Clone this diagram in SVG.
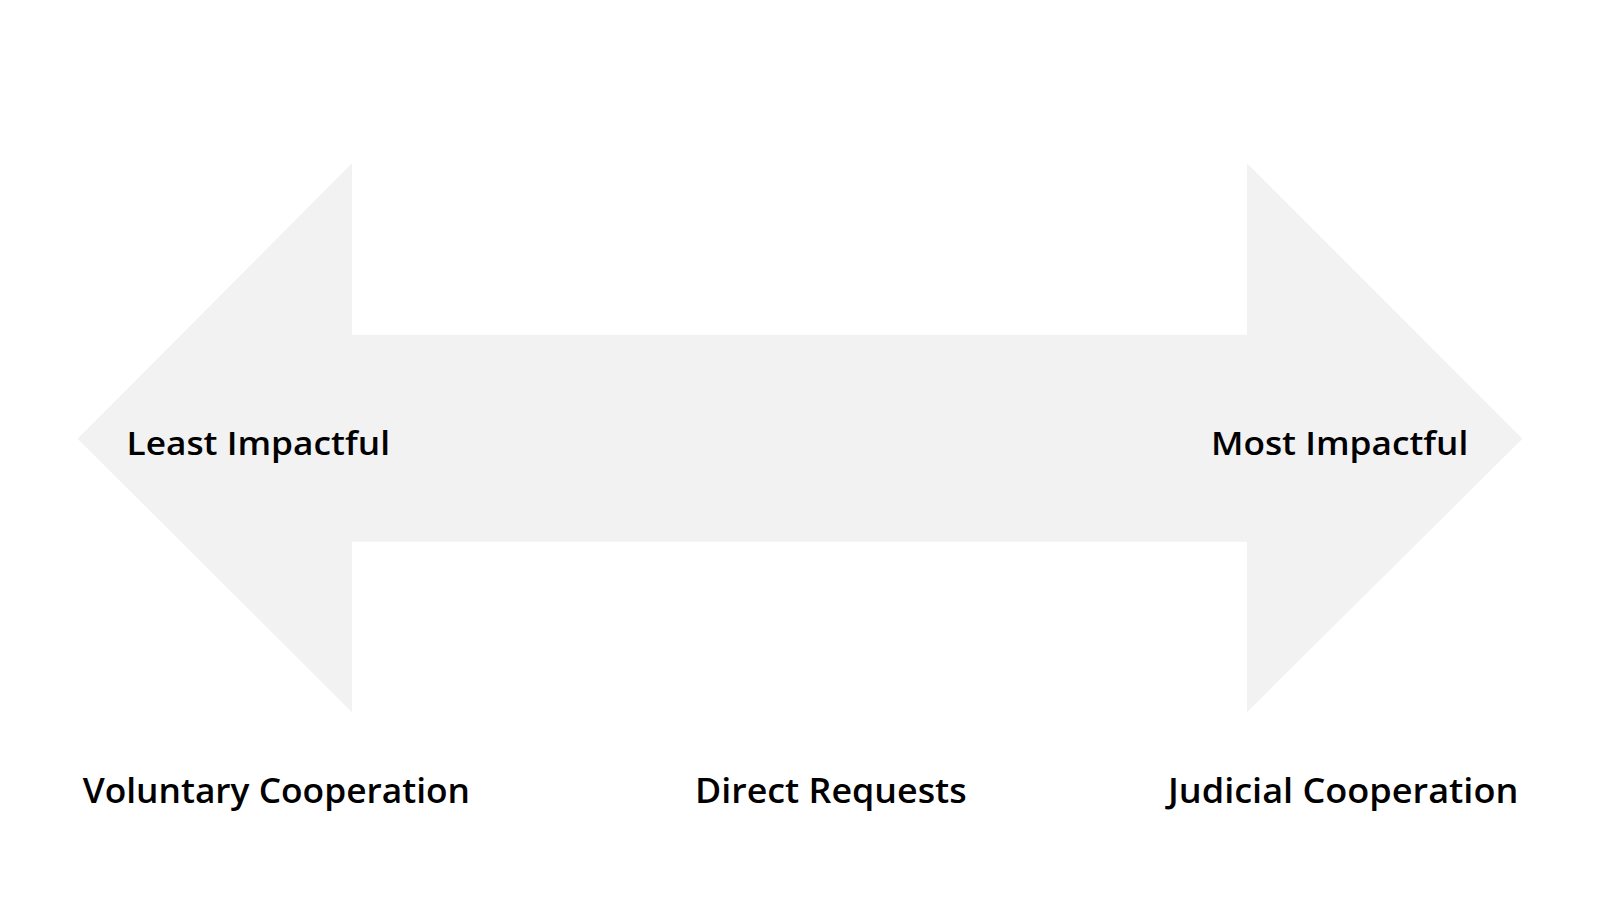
<svg xmlns="http://www.w3.org/2000/svg" width="1600" height="900" viewBox="0 0 1600 900">
<style>
.lbl{font-family:"Open Sans","Liberation Sans",sans-serif;font-weight:600;font-size:33px;fill:#000}
.bot{font-size:35px}
</style>
<rect width="1600" height="900" fill="#ffffff"/>
<g id="arrow">
<path d="M77.6,438.8 L352,163.3 L352,334.7 L1247,334.7 L1247,163.3 L1522.4,438.8 L1247,712.2 L1247,541.8 L352,541.8 L352,712.2 Z" fill="#f2f2f2"/>
</g>
<g id="least"><text class="lbl" x="126.5" y="454.5" textLength="263.5" lengthAdjust="spacingAndGlyphs">Least Impactful</text></g>
<g id="most"><text class="lbl" x="1211" y="454.5" textLength="257.3" lengthAdjust="spacingAndGlyphs">Most Impactful</text></g>
<g id="voluntary"><text class="lbl bot" x="82.7" y="802.5" textLength="387.3" lengthAdjust="spacingAndGlyphs">Voluntary Cooperation</text></g>
<g id="direct"><text class="lbl bot" x="695" y="802.5" textLength="271.7" lengthAdjust="spacingAndGlyphs">Direct Requests</text></g>
<g id="judicial"><text class="lbl bot" x="1168" y="802.5" textLength="350.3" lengthAdjust="spacingAndGlyphs">Judicial Cooperation</text></g>
<g id="connectors"></g>
</svg>
